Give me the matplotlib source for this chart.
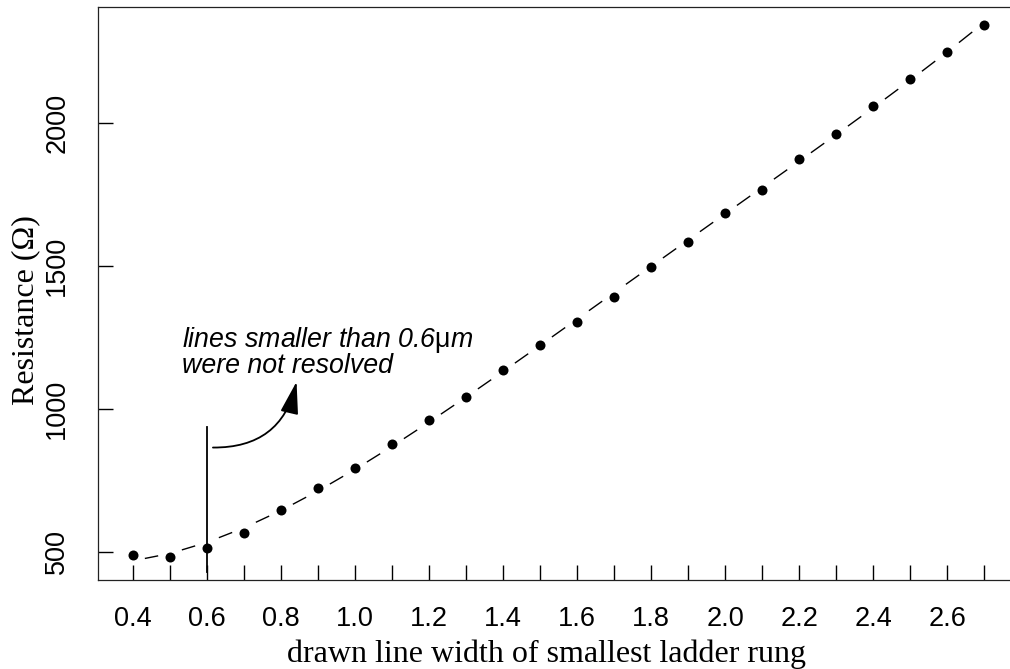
"""Ladder-rung resistance vs drawn line width, with a polynomial fit drawn as centred dashes."""

import matplotlib

matplotlib.use("Agg")
import matplotlib.pyplot as plt
import numpy as np
from matplotlib.collections import LineCollection
from matplotlib.patches import FancyArrowPatch

width = [0.4, 0.5, 0.6, 0.7, 0.8, 0.9, 1.0, 1.1, 1.2, 1.3, 1.4, 1.5,
         1.6, 1.7, 1.8, 1.9, 2.0, 2.1, 2.2, 2.3, 2.4, 2.5, 2.6, 2.7]
resistance = [490, 484, 515, 567, 648, 725, 795, 879, 962, 1040, 1136, 1224,
              1305, 1393, 1497, 1585, 1684, 1767, 1872, 1960, 2060, 2155, 2249, 2342]

xticks = [0.4, 0.6, 0.8, 1.0, 1.2, 1.4, 1.6, 1.8, 2.0, 2.2, 2.4, 2.6]
xtick_labels = ["0.4", "0.6", "0.8", "1.0", "1.2", "1.4", "1.6", "1.8", "2.0", "2.2", "2.4", "2.6"]
xminor = [0.5, 0.7, 0.9, 1.1, 1.3, 1.5, 1.7, 1.9, 2.1, 2.3, 2.5, 2.7]
yticks = [500, 1000, 1500, 2000]

LIMIT = 0.6  # resolution limit marked on the plot
LIMIT_SPAN = (431, 938)
FIT_DEG = 4

SANS = "Liberation Sans"
SERIF = "Liberation Serif"
plt.rcParams["mathtext.fontset"] = "custom"
plt.rcParams["mathtext.rm"] = SANS


def main():
    x = np.array(width)
    y = np.array(resistance, dtype=float)

    fig = plt.figure(figsize=(10.10, 6.69), dpi=100)
    ax = fig.add_axes([98 / 1010, 1 - 580 / 669, 1 - 98 / 1010, 573 / 669])
    ax.set_xlim(0.3054, 2.770)
    ax.set_ylim(402, 2405)
    ax.spines["right"].set_visible(False)
    for s in ("left", "bottom", "top"):
        ax.spines[s].set_linewidth(0.9)
        ax.spines[s].set_color("#222222")

    # polynomial fit, drawn as one short dash centred between neighbouring points
    fit = np.polyval(np.polyfit(x, y, FIT_DEG), x)
    p = np.column_stack([x, fit])
    a, b = p[:-1], p[1:]
    segs = np.stack([a + 0.32 * (b - a), a + 0.68 * (b - a)], axis=1)
    ax.add_collection(LineCollection(segs, colors="black", linewidths=1.0))

    ax.plot(x, y, "o", color="black", ms=7.2, mec="none", zorder=3)

    ax.set_xticks(xticks)
    ax.set_xticklabels(xtick_labels, fontfamily=SANS, fontsize=19.5)
    ax.set_xticks(xminor, minor=True)
    ax.set_yticks(yticks)
    ax.set_yticklabels([str(v) for v in yticks], fontfamily=SANS, fontsize=19.5)
    ax.tick_params(which="both", direction="in", length=11, width=1.0, color="black")
    ax.tick_params(axis="x", which="both", pad=19)
    ax.tick_params(axis="y", pad=20, labelrotation=90)
    for lab in ax.get_yticklabels():
        lab.set_va("center")

    ax.set_xlabel("drawn line width of smallest ladder rung", fontfamily=SERIF, fontsize=23)
    ax.xaxis.label.set_va("baseline")
    ax.xaxis.set_label_coords(0.4918, -0.1431)
    ax.set_ylabel("Resistance (Ω)", fontfamily=SERIF, fontsize=23)
    ax.yaxis.label.set_va("baseline")
    ax.yaxis.set_label_coords(-0.0707, 0.4712)

    # resolution-limit annotation
    ax.plot([LIMIT, LIMIT], LIMIT_SPAN, color="black", lw=1.3)
    ax.add_patch(FancyArrowPatch((0.616, 865), (0.842, 1095), connectionstyle="arc3,rad=0.4",
                                 arrowstyle="-|>,head_length=1.0,head_width=0.28",
                                 mutation_scale=20, color="black", lw=1.3,
                                 shrinkA=0, shrinkB=0))
    ax.text(0.5324, 1218, "lines smaller than 0.6$\\mathrm{\\mu}$m", fontfamily=SANS,
            fontstyle="italic", fontsize=19.3, va="baseline")
    ax.text(0.5324, 1127, "were not resolved", fontfamily=SANS,
            fontstyle="italic", fontsize=19.3, va="baseline")

    fig.savefig("out.png", dpi=100)


if __name__ == "__main__":
    main()
